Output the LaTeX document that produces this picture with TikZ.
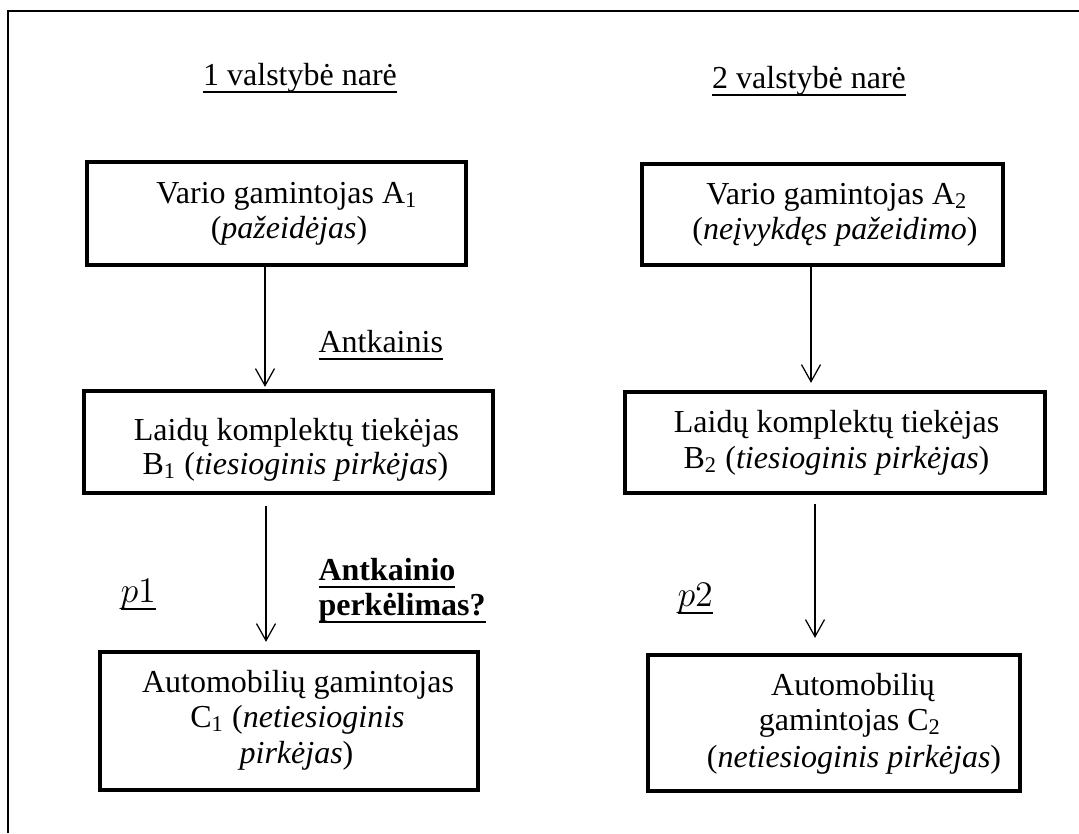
\documentclass[tikz,border=0pt]{standalone}
\usepackage{fontspec}
\setmainfont{Liberation Serif}
\usetikzlibrary{arrows.meta}
\newcommand\myul[1]{\setbox0\hbox{#1}\rlap{\rule[-3pt]{\wd0}{0.6pt}}\box0}
\begin{document}
\begin{tikzpicture}[x=0.4pt,y=-0.4pt,
  box/.style={draw, line width=1.7pt, inner sep=0pt},
  txt/.style={anchor=base, inner sep=0pt, font=\fontsize{12.8}{14}\selectfont},
  txtl/.style={anchor=base west, inner sep=0pt, font=\fontsize{12.8}{14}\selectfont},
  arr/.style={line width=0.5pt, -{Straight Barb[length=6.8pt, width=7.6pt, line width=0.5pt]}},
  frameline/.style={line width=0.7pt}]
\useasboundingbox (0,0) rectangle (1079,833);
% outer frame (top and left edges)
\coordinate (fbl) at (8,833);
\coordinate (ftl) at (8,11);
\coordinate (ftr) at (1079,11);
\draw[frameline] (fbl) -- (ftl) -- (ftr);
% headings
\node[txt] (h1) at (300,85) {\myul{1 valstybė narė}};
\node[txt] (h2) at (809,88) {\myul{2 valstybė narė}};
% boxes
\node[box, minimum width=151.6pt, minimum height=41.2pt] (a1) at (276.5,213.5) {};
\node[box, minimum width=163.6pt, minimum height=40.8pt] (b1) at (288.5,442) {};
\node[box, minimum width=151.2pt, minimum height=55.2pt] (c1) at (289,721) {};
\node[box, minimum width=144.4pt, minimum height=40.4pt] (a2) at (822.5,214.5) {};
\node[box, minimum width=168pt, minimum height=40.4pt] (b2) at (835,442.5) {};
\node[box, minimum width=148.8pt, minimum height=54.4pt] (c2) at (834,723) {};
% box texts
\node[txt] (a1l1) at (287,203) {Vario gamintojas A\textsubscript{1}};
\node[txt] (a1l2) at (289,238) {(\textit{pažeidėjas})};
\node[txt] (b1l1) at (296.5,440) {Laidų komplektų tiekėjas};
\node[txt] (b1l2) at (295.5,474) {B\textsubscript{1} (\textit{tiesioginis pirkėjas})};
\node[txt] (c1l1) at (298,692) {Automobilių gamintojas};
\node[txt] (c1l2) at (297.5,727) {C\textsubscript{1} (\textit{netiesioginis}};
\node[txt] (c1l3) at (296.5,763) {\textit{pirkėjas})};
\node[txt] (a2l1) at (837,204) {Vario gamintojas A\textsubscript{2}};
\node[txt] (a2l2) at (835,239) {(\textit{neįvykdęs pažeidimo})};
\node[txt] (b2l1) at (836.5,432) {Laidų komplektų tiekėjas};
\node[txt] (b2l2) at (836.5,468) {B\textsubscript{2} (\textit{tiesioginis pirkėjas})};
\node[txt] (c2l1) at (853,695) {Automobilių};
\node[txt] (c2l2) at (850,730) {gamintojas C\textsubscript{2}};
\node[txt] (c2l3) at (854,767) {(\textit{netiesioginis pirkėjas})};
% labels
\node[txtl] (ant) at (318,352) {\myul{Antkainis}};
\node[txtl] (ap1) at (318,580) {\myul{\textbf{Antkainio}}};
\node[txtl] (ap2) at (318,615) {\myul{\textbf{perkėlimas?}}};
\node[txtl, font=\fontsize{14}{14}\selectfont] (p1) at (120,602) {\myul{$p1$}};
\node[txtl, font=\fontsize{14}{14}\selectfont] (p2) at (677,606) {\myul{$p2$}};
% arrows
\coordinate (x1) at (265,0);
\coordinate (x2) at (266,0);
\coordinate (x3) at (811,0);
\coordinate (x4) at (815,0);
\draw[arr, shorten >=0.8pt] (a1.south -| x1) -- (b1.north -| x1);
\draw[arr, shorten <=4.4pt, shorten >=3.2pt] (b1.south -| x2) -- (c1.north -| x2);
\draw[arr, shorten >=2.8pt] (a2.south -| x3) -- (b2.north -| x3);
\draw[arr, shorten <=3.6pt, shorten >=6pt] (b2.south -| x4) -- (c2.north -| x4);
\end{tikzpicture}
\end{document}
